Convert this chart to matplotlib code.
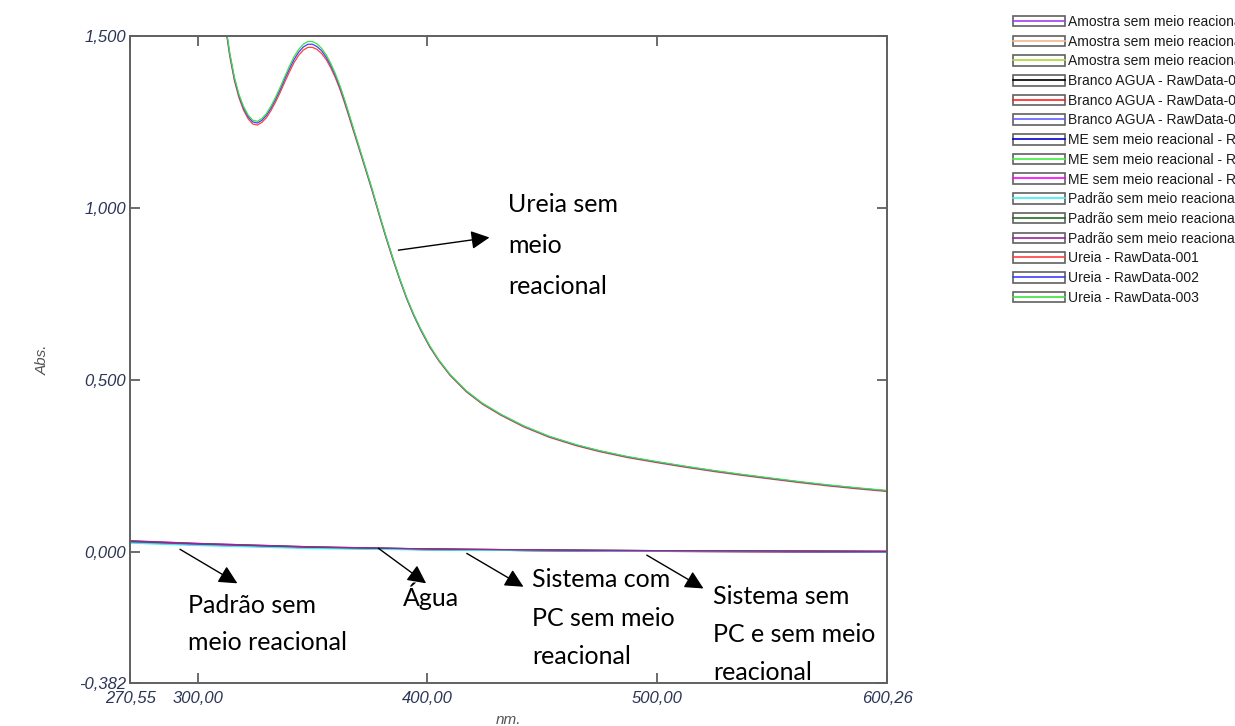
from matplotlib import pyplot as plt
from matplotlib.lines import Line2D
from matplotlib.patches import Patch

# comprimentos de onda (nm) das curvas de ureia
wl_ureia = [270.55, 290, 300, 305, 310,
            312, 314, 316, 318, 320, 322, 324, 326, 328, 330,
            332, 334, 336, 338, 340, 342, 344, 346, 348, 350,
            352, 354, 356, 358, 360, 362, 364, 366, 368, 370,
            373, 376, 379, 382, 385, 388, 391, 394, 397,
            401, 405, 410, 417, 424, 432, 442, 453, 465, 475,
            487, 500, 512, 525, 537, 550, 562, 575, 587, 600.26]
ureia_001 = [3.48, 2.78, 2.24, 1.942, 1.642,
             1.531, 1.44, 1.37, 1.32, 1.284, 1.259, 1.244, 1.241, 1.249, 1.263,
             1.284, 1.309, 1.337, 1.367, 1.396, 1.423, 1.444, 1.459, 1.467, 1.467,
             1.461, 1.449, 1.431, 1.407, 1.378, 1.344, 1.305, 1.263, 1.22, 1.178,
             1.114, 1.049, 0.98, 0.913, 0.85, 0.791, 0.736, 0.688, 0.646,
             0.596, 0.555, 0.512, 0.465, 0.429, 0.397, 0.363, 0.333, 0.308, 0.291,
             0.274, 0.259, 0.246, 0.233, 0.222, 0.211, 0.201, 0.191, 0.183, 0.175]
ureia_002 = [3.49, 2.79, 2.245, 1.946, 1.646,
             1.536, 1.446, 1.376, 1.326, 1.29, 1.265, 1.25, 1.247, 1.255, 1.27,
             1.291, 1.317, 1.345, 1.376, 1.405, 1.432, 1.453, 1.468, 1.476, 1.476,
             1.469, 1.457, 1.438, 1.414, 1.385, 1.35, 1.311, 1.268, 1.225, 1.182,
             1.117, 1.052, 0.983, 0.916, 0.853, 0.793, 0.738, 0.69, 0.648,
             0.598, 0.557, 0.514, 0.467, 0.431, 0.399, 0.365, 0.335, 0.31, 0.293,
             0.276, 0.261, 0.248, 0.235, 0.224, 0.213, 0.203, 0.193, 0.185, 0.177]
ureia_003 = [3.50, 2.80, 2.25, 1.95, 1.65,
             1.54, 1.45, 1.38, 1.33, 1.295, 1.27, 1.255, 1.252, 1.26, 1.275,
             1.297, 1.323, 1.352, 1.383, 1.413, 1.44, 1.461, 1.476, 1.484, 1.484,
             1.477, 1.464, 1.445, 1.42, 1.39, 1.355, 1.315, 1.272, 1.228, 1.185,
             1.12, 1.055, 0.985, 0.918, 0.855, 0.795, 0.74, 0.692, 0.65,
             0.60, 0.558, 0.515, 0.468, 0.432, 0.40, 0.366, 0.336, 0.311, 0.294,
             0.277, 0.262, 0.249, 0.236, 0.225, 0.214, 0.204, 0.194, 0.186, 0.178]

# amostras com absorbancia baixa
wl_low = [270.55, 300, 350, 400, 450, 500, 550, 600.26]
amostra_001 = [0.031, 0.024, 0.014, 0.008, 0.005, 0.003, 0.002, 0.001]
amostra_002 = [0.030, 0.023, 0.013, 0.007, 0.004, 0.003, 0.001, 0.000]
amostra_003 = [0.030, 0.023, 0.014, 0.008, 0.005, 0.003, 0.002, 0.001]
branco_001 = [0.028, 0.021, 0.012, 0.006, 0.003, 0.001, 0.000, -0.001]
branco_002 = [0.028, 0.020, 0.011, 0.006, 0.003, 0.001, 0.000, -0.001]
branco_003 = [0.027, 0.020, 0.011, 0.006, 0.003, 0.001, 0.000, -0.001]
me_001 = [0.029, 0.022, 0.013, 0.007, 0.004, 0.002, 0.001, 0.000]
me_002 = [0.029, 0.022, 0.012, 0.007, 0.004, 0.002, 0.001, 0.000]
me_003 = [0.029, 0.021, 0.012, 0.007, 0.004, 0.002, 0.001, 0.000]
padrao_001 = [0.025, 0.018, 0.009, 0.005, 0.003, 0.002, 0.001, 0.000]
padrao_002 = [0.030, 0.023, 0.013, 0.008, 0.005, 0.003, 0.002, 0.001]
padrao_003 = [0.032, 0.024, 0.014, 0.008, 0.005, 0.003, 0.002, 0.001]

x_ticks = [270.55, 300, 400, 500, 600.26]
x_labels = ["270,55", "300,00", "400,00", "500,00", "600,26"]
y_ticks = [-0.382, 0.0, 0.5, 1.0, 1.5]
y_labels = ["-0,382", "0,000", "0,500", "1,000", "1,500"]


def main():
    series = [
        ("Amostra sem meio reacional - RawData-001", wl_low, amostra_001, "#a040f0"),
        ("Amostra sem meio reacional - RawData-002", wl_low, amostra_002, "#f2b48a"),
        ("Amostra sem meio reacional - RawData-003", wl_low, amostra_003, "#a8d838"),
        ("Branco AGUA - RawData-001", wl_low, branco_001, "#000000"),
        ("Branco AGUA - RawData-002", wl_low, branco_002, "#ff2020"),
        ("Branco AGUA - RawData-003", wl_low, branco_003, "#6060ff"),
        ("ME sem meio reacional - RawData-001", wl_low, me_001, "#0000d0"),
        ("ME sem meio reacional - RawData-002", wl_low, me_002, "#40f040"),
        ("ME sem meio reacional - RawData-003", wl_low, me_003, "#ff00ff"),
        ("Padrão sem meio reacional - RawData-001", wl_low, padrao_001, "#40f0f0"),
        ("Padrão sem meio reacional - RawData-002", wl_low, padrao_002, "#207020"),
        ("Padrão sem meio reacional - RawData-003", wl_low, padrao_003, "#a020a0"),
        ("Ureia - RawData-001", wl_ureia, ureia_001, "#ff4040"),
        ("Ureia - RawData-002", wl_ureia, ureia_002, "#4040ff"),
        ("Ureia - RawData-003", wl_ureia, ureia_003, "#40e040"),
    ]

    fig = plt.figure(figsize=(12.35, 7.26), dpi=100)
    ax = fig.add_axes([0.1053, 0.0592, 0.6130, 0.8912])

    handles = []
    labels = []
    for name, x, y, c in series:
        ax.plot(x, y, color=c, lw=0.9)
        box = Patch(facecolor="white", edgecolor="#606060", lw=1.2)
        ln = Line2D([], [], color=c, lw=1.2)
        handles.append((box, ln))
        labels.append(name)

    ax.set_xlim(270.55, 600.26)
    ax.set_ylim(-0.382, 1.5)

    tick_color = "#2b3556"
    ax.set_xticks(x_ticks)
    ax.set_xticklabels(x_labels)
    ax.set_yticks(y_ticks)
    ax.set_yticklabels(y_labels)
    ax.tick_params(axis="both", direction="in", length=7, width=1.3, color="#606060",
                   labelsize=12, labelcolor=tick_color, top=True, right=True)
    ax.tick_params(axis="x", pad=6)
    ax.tick_params(axis="y", pad=3)
    for lab in ax.get_xticklabels() + ax.get_yticklabels():
        lab.set_fontstyle("italic")
        lab.set_family("Liberation Sans")
    for sp in ax.spines.values():
        sp.set_color("#606060")
        sp.set_linewidth(1.4)

    ax.set_xlabel("nm.", fontsize=11, fontstyle="italic", color="#555555",
                  family="Liberation Sans", labelpad=5)
    ax.set_ylabel("Abs.", fontsize=11, fontstyle="italic", color="#555555",
                  family="Liberation Sans", labelpad=21)

    # setas e textos explicativos
    arrow = dict(arrowstyle="-|>", mutation_scale=28, color="black", lw=1.0,
                 shrinkA=0, shrinkB=0)
    notes = [
        ("Ureia sem\nmeio\nreacional", (387.4, 0.877), (427.1, 0.914), (435.2, 0.890), 1.95),
        ("Padrão sem\nmeio reacional", (292.3, 0.007), (317.3, -0.092), (295.8, -0.210), 1.7),
        ("Água", (378.7, 0.010), (399.5, -0.092), (389.5, -0.130), 1.7),
        ("Sistema com\nPC sem meio\nreacional", (417.2, -0.005), (441.9, -0.102), (445.5, -0.193), 1.8),
        ("Sistema sem\nPC e sem meio\nreacional", (495.6, -0.010), (520.3, -0.107), (524.4, -0.241), 1.8),
    ]
    for text, tail, head, pos, spacing in notes:
        ax.annotate("", xy=head, xytext=tail, arrowprops=arrow)
        ax.text(pos[0], pos[1], text, fontsize=18, family="Lato", ha="left",
                va="center", linespacing=spacing, color="black")

    leg = fig.legend(handles, labels, loc="upper left",
                     bbox_to_anchor=(1013 / 1235, 1 - 15 / 726),
                     prop={"family": "Liberation Sans", "size": 10},
                     handlelength=3.75, handleheight=0.8, handletextpad=0.2,
                     labelspacing=0.41, borderpad=0, borderaxespad=0,
                     frameon=False)
    for t in leg.get_texts():
        t.set_color("#1a1a1a")

    plt.savefig("out.png", dpi=100)


if __name__ == "__main__":
    main()
